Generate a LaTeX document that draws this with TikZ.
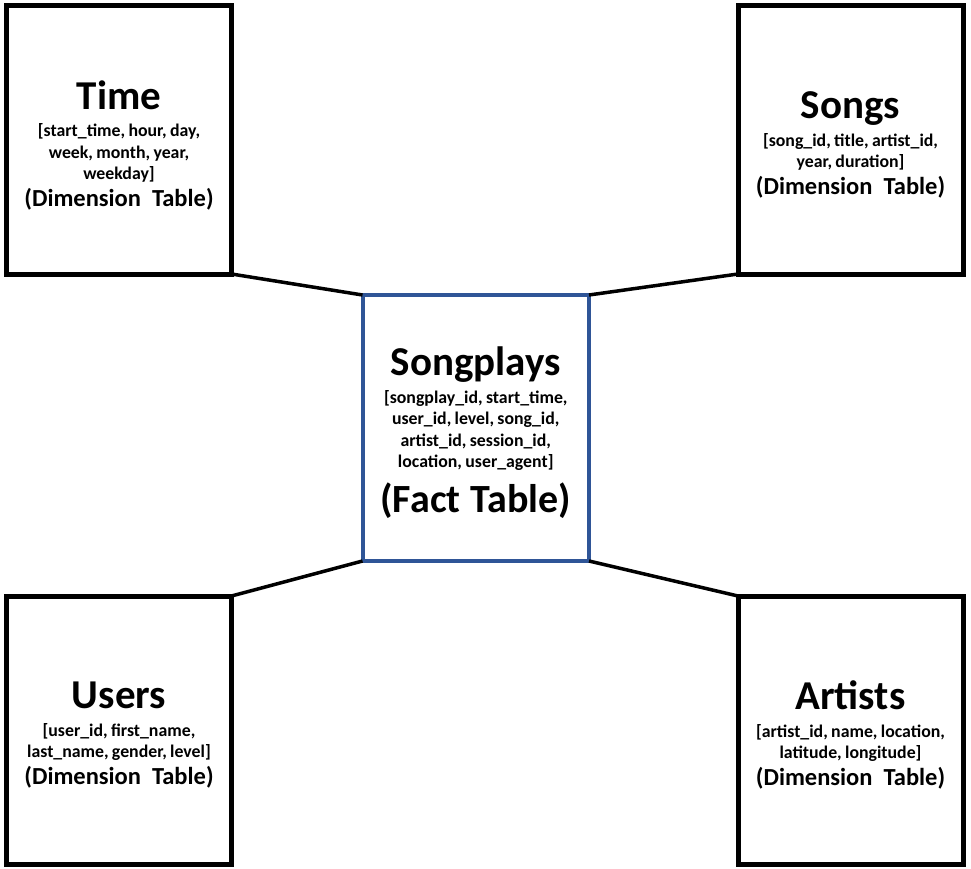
\documentclass[tikz,border=0pt]{standalone}
\usepackage{fontspec}
\setmainfont{Carlito}
\usetikzlibrary{positioning}
\definecolor{factblue}{RGB}{47,85,151}
\newcommand{\tabtitle}[1]{{\fontsize{41}{41}\selectfont #1\par}\vspace{6pt}}
\newcommand{\tabcols}[1]{{\fontsize{17.8}{21.5}\selectfont #1\par}}
\newcommand{\dimtab}{{\fontsize{24.5}{26.5}\selectfont (Dimension\hspace{0.45em}Table)\par}}
\newcommand{\facttab}{{\fontsize{40}{45}\selectfont (Fact\hspace{0.25em}Table)\par}}

\begin{document}
\begin{tikzpicture}[x=1pt,y=-1pt,
    dim/.style={draw,line width=5pt,minimum width=225pt,minimum height=268pt,
      outer sep=0pt,inner sep=0pt},
    fct/.style={draw=factblue,line width=4pt,minimum width=226.5pt,
      minimum height=266pt,outer sep=0pt,inner sep=0pt},
    txt/.style={text width=215pt,inner sep=0pt,font=\bfseries,yshift=-5pt},
    link/.style={line width=3.5pt}]
  \useasboundingbox (0,0) rectangle (971,869);
  \node[fct] (fact) at (475.75,428) {};
  \node[dim, above left=21pt and 131pt of fact] (time) {};
  \node[dim, above right=21pt and 149pt of fact] (songs) {};
  \node[dim, below left=35pt and 131pt of fact] (users) {};
  \node[dim, below right=35pt and 149pt of fact] (artists) {};
  \draw[link] (time.south east) -- (fact.north west);
  \draw[link] (songs.south west) -- (fact.north east);
  \draw[link] (users.north east) -- (fact.south west);
  \draw[link] (artists.north west) -- (fact.south east);
  \node[txt] (fact-txt) at (fact) {\centering\tabtitle{Songplays}%
    \tabcols{[songplay\_id, start\_time,\\ user\_id, level, song\_id,\\
      artist\_id, session\_id,\\ location, user\_agent]}\facttab};
  \node[txt] (time-txt) at (time) {\centering\tabtitle{Time}%
    \tabcols{[start\_time, hour, day,\\ week, month, year,\\ weekday]}\dimtab};
  \node[txt] (songs-txt) at (songs) {\centering\tabtitle{Songs}%
    \tabcols{[song\_id, title, artist\_id,\\ year, duration]}\dimtab};
  \node[txt] (users-txt) at (users) {\centering\tabtitle{Users}%
    \tabcols{[user\_id, first\_name,\\ last\_name, gender, level]}\dimtab};
  \node[txt] (artists-txt) at (artists) {\centering\tabtitle{Artists}%
    \tabcols{[artist\_id, name, location,\\ latitude, longitude]}\dimtab};
\end{tikzpicture}
\end{document}
